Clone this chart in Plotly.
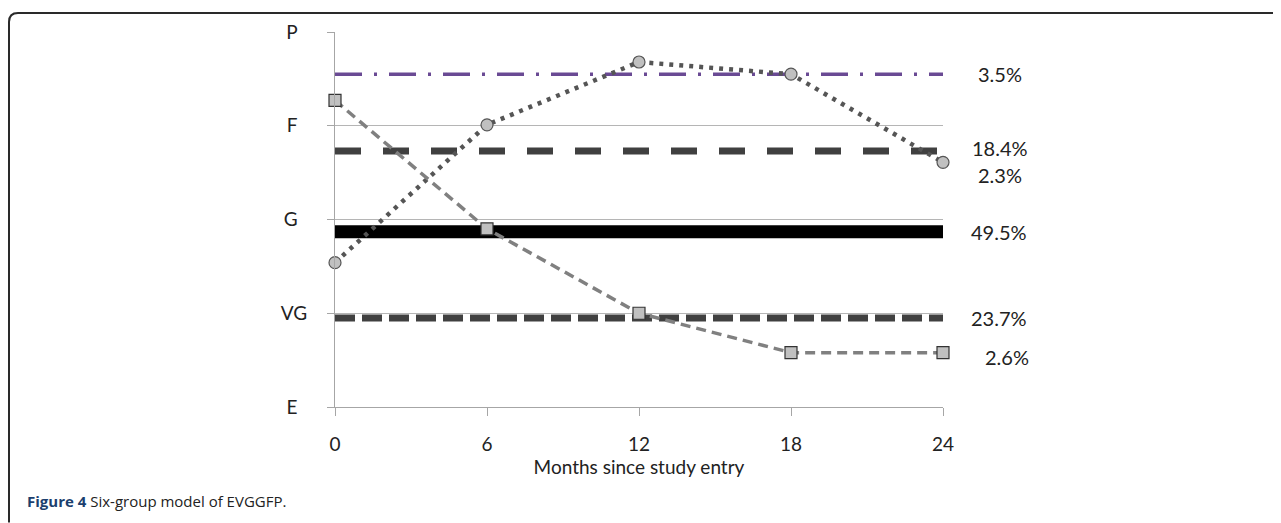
import plotly.graph_objects as go

# ---- data ----
months = [0, 6, 12, 18, 24]
x_ticks = [0, 6, 12, 18, 24]
y_levels = [0, 1, 2, 3, 4]
y_labels = ["E", "VG", "G", "F", "P"]

# flat trajectory groups (constant level over time)
flat_purple = 3.55     # 3.5%
flat_f = 2.73          # 18.4%
flat_g = 1.87          # 49.5%
flat_vg = 0.95         # 23.7%

# changing trajectories
rising = [1.54, 3.01, 3.68, 3.55, 2.61]     # 2.3%
falling = [3.27, 1.90, 1.00, 0.58, 0.58]    # 2.6%

pct_labels = ["3.5%", "18.4%", "2.3%", "49.5%", "23.7%", "2.6%"]

# ---- layout geometry (page pixels; the page body adds an 8px offset) ----
OFF = 8
W, H = 1281 - OFF, 523 - OFF
L, R = 335 - OFF, 943 - OFF
T, B = 30 - OFF, 407 - OFF


def px(xp):
    return (xp - OFF - L) / (R - L)


def py(yp):
    return (B - (yp - OFF)) / (B - T)


fig = go.Figure()


def flat(level, color, width, dash):
    fig.add_trace(go.Scatter(
        x=[months[0], months[-1]], y=[level, level], mode="lines",
        line=dict(color=color, width=width, dash=dash),
        hoverinfo="skip", showlegend=False, cliponaxis=False))


flat(flat_purple, "#6a4a94", 3.5, "27px,12px,3px,12px")
flat(flat_f, "#404040", 7, "26px,22px")
flat(flat_g, "#000000", 13, "solid")
flat(flat_vg, "#404040", 7, "20px,7px")

fig.add_trace(go.Scatter(
    x=months, y=rising, mode="lines+markers",
    line=dict(color="#555555", width=4.5, dash="4px,6px"),
    marker=dict(symbol="circle", size=12, color="#c0c0c0",
                line=dict(color="#555555", width=1.2)),
    showlegend=False, cliponaxis=False))

fig.add_trace(go.Scatter(
    x=months, y=falling, mode="lines+markers",
    line=dict(color="#808080", width=3.5, dash="10px,6px"),
    marker=dict(symbol="square", size=12, color="#c0c0c0",
                line=dict(color="#333333", width=1.2)),
    showlegend=False, cliponaxis=False))

# right-side percentage labels
label_levels = [flat_purple, flat_f, rising[-1], flat_g, flat_vg, falling[-1]]
label_shift = [0, 3, -13, 0, 0, -4]
label_x = [1000, 1000, 1000, 999, 999, 1007]
for txt, lv, sh, lx in zip(pct_labels, label_levels, label_shift, label_x):
    fig.add_annotation(x=px(lx), xref="paper", y=lv, yref="y", yshift=sh,
                       text=txt, showarrow=False, xanchor="center",
                       font=dict(family="Lato", size=20, color="#222222"))

# caption
fig.add_annotation(x=px(25), xref="paper", y=py(501), yref="paper",
                   xanchor="left", yanchor="middle", showarrow=False,
                   text="<b><span style='color:#1c3f6e'>Figure 4</span></b> Six-group model of EVGGFP.",
                   font=dict(family="Open Sans", size=15, color="#222222"))

# frame (top and left border with rounded corner)
r = 9
fig.add_shape(type="path", xref="paper", yref="paper",
              path=(f"M {px(9)},{py(523)} L {px(9)},{py(11 + r)} "
                    f"Q {px(9)},{py(11)} {px(9 + r)},{py(11)} L {px(1281)},{py(11)}"),
              line=dict(color="#2a2a2a", width=2))

# y tick labels appear left-aligned in the reference: pad single letters
y_ticktext = [t if len(t) > 1 else t + "\u2002" for t in y_labels]

fig.update_layout(
    width=W, height=H,
    margin=dict(l=L, r=W - R, t=T, b=H - B, pad=0),
    plot_bgcolor="white", paper_bgcolor="white",
    font=dict(family="Lato", size=19, color="#222222"),
    xaxis=dict(range=[0, 24], tickvals=x_ticks, ticktext=[str(v) for v in x_ticks],
               showgrid=False, zeroline=False, showline=True,
               linecolor="#a6a6a6", linewidth=1.2,
               ticks="outside", ticklen=8, tickcolor="#a6a6a6",
               ticklabelstandoff=12,
               title=dict(text="Months since study entry", standoff=5,
                          font=dict(family="Lato", size=19))),
    yaxis=dict(range=[0, 4], tickvals=y_levels, ticktext=y_ticktext,
               showgrid=True, gridcolor="#b5b5b5", gridwidth=1,
               zeroline=False, showline=True, linecolor="#a6a6a6", linewidth=1.2,
               ticks="outside", ticklen=7, tickcolor="#a6a6a6",
               ticklabelstandoff=16),
)

fig.write_html("out.html")
